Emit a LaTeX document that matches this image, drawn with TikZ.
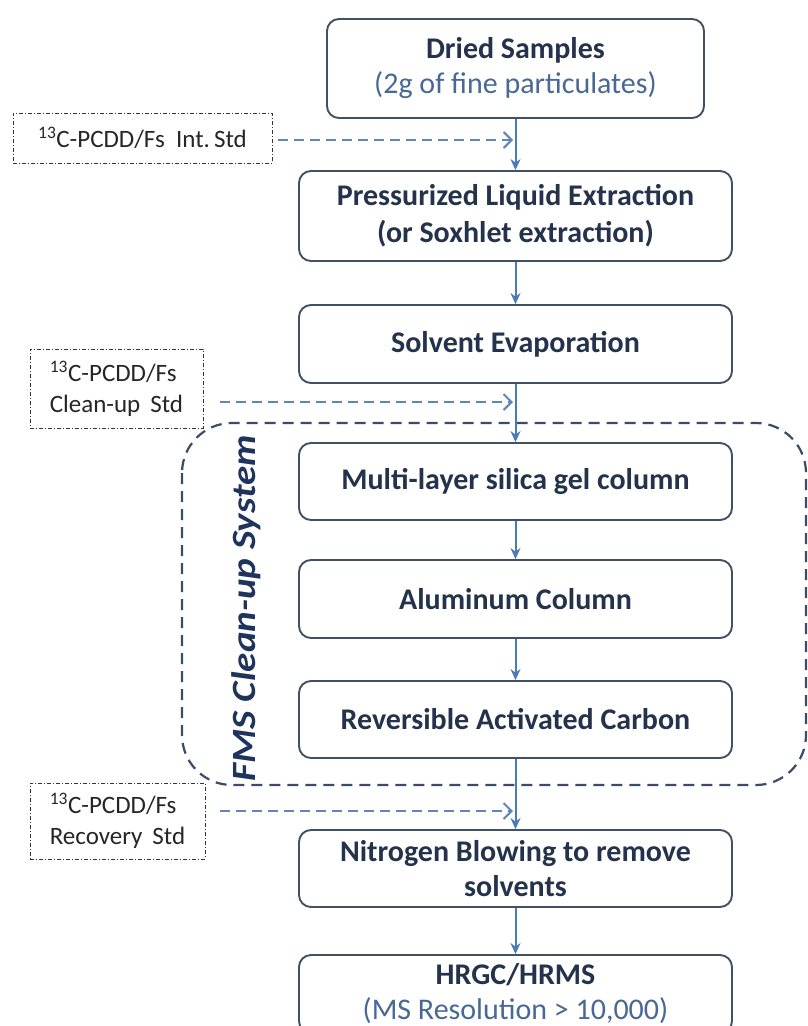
\documentclass[tikz,border=0pt]{standalone}
\usepackage{fontspec}
\setmainfont{Carlito}
\usetikzlibrary{arrows.meta}
\definecolor{boxline}{RGB}{66,80,100}
\definecolor{txt}{RGB}{36,50,76}
\definecolor{subtxt}{RGB}{72,104,150}
\definecolor{arrowc}{RGB}{74,122,184}
\definecolor{dasharr}{RGB}{92,134,188}
\definecolor{fmsc}{RGB}{58,76,102}
\definecolor{fmstxt}{RGB}{30,52,92}
\begin{document}
\begin{tikzpicture}[x=1pt,y=-1pt,
  stepbox/.style={draw=boxline,line width=1.9pt,rounded corners=12pt,fill=white,
    minimum width=433pt,align=center,text=txt,inner sep=0pt,
    font=\fontsize{30}{35}\selectfont\bfseries},
  stdbox/.style={draw=black!80,line width=0.8pt,
    dash pattern=on 4pt off 2pt on 1pt off 2pt,align=left,text=black!85,
    inner sep=0pt,font=\fontsize{25}{31}\selectfont},
  solidarr/.style={draw=arrowc,line width=2pt,-{Stealth[length=11pt,width=10pt]}},
  dasharrow/.style={draw=dasharr,line width=2.2pt,dash pattern=on 10pt off 6pt,
    -{Straight Barb[length=8pt,width=16pt,line width=2pt]}},
  fmsbox/.style={draw=fmsc,line width=2.2pt,dash pattern=on 11pt off 7pt,rounded corners=50pt}
]
\useasboundingbox (0,0) rectangle (807,1026);
\fill[white] (0,0) rectangle (807,1026);

% FMS clean-up region
\draw[fmsbox] (182,423) rectangle (806,785);
\node[rotate=90,text=fmstxt,font=\fontsize{34}{38}\selectfont\bfseries\itshape] (fms) at (246,608)
  {\scalebox{1.15}[1]{FMS Clean-up System}};

% main steps
\node[stepbox,minimum width=377pt,minimum height=99pt] (dried) at (515.5,68.5)
  {Dried Samples\\{\mdseries\color{subtxt}(2g of fine particulates)}};
\node[stepbox,minimum height=90pt,font=\fontsize{30}{37}\selectfont\bfseries] (ple) at (515.5,216)
  {Pressurized Liquid Extraction\\(or Soxhlet extraction)};
\node[stepbox,minimum height=78pt] (solv) at (515.5,344) {Solvent Evaporation};
\node[stepbox,minimum height=77pt] (multi) at (515.5,481.5) {Multi-layer silica gel column};
\node[stepbox,minimum height=78pt] (alum) at (515.5,599) {Aluminum Column};
\node[stepbox,minimum height=77pt] (rev) at (515.5,719.5) {Reversible Activated Carbon};
\node[stepbox,minimum height=77pt] (nitro) at (515.5,868.5) {Nitrogen Blowing to remove\\solvents};
\node[stepbox,minimum height=78pt] (hrgc) at (515.5,994)
  {HRGC/HRMS\\{\mdseries\color{subtxt}(MS Resolution > 10,000)}};

% standards
\node[stdbox,minimum width=259pt,minimum height=50pt] (ints) at (142.5,138)
  {\textsuperscript{13}C-PCDD/Fs\hspace{0.45em}Int.\,Std};
\node[stdbox,minimum width=173pt,minimum height=79pt] (cstd) at (116.5,388.5)
  {\textsuperscript{13}C-PCDD/Fs\\Clean-up\hspace{0.4em}Std};
\node[stdbox,minimum width=175pt,minimum height=76pt] (rstd) at (117.5,821)
  {\textsuperscript{13}C-PCDD/Fs\\Recovery\hspace{0.4em}Std};

% junction points on the main flow line
\coordinate (j1) at (513,140);
\coordinate (j2) at (513,402);
\coordinate (j3) at (513,811);

% main flow
\draw[solidarr] (dried) -- (ple);
\draw[solidarr] (ple) -- (solv);
\draw[solidarr] (solv) -- (multi);
\draw[solidarr] (multi) -- (alum);
\draw[solidarr] (alum) -- (rev);
\draw[solidarr] (rev) -- (nitro);
\draw[solidarr] (nitro) -- (hrgc);

% standards added
\draw[dasharrow,shorten <=6pt] (ints.east |- j1) -- (j1);
\draw[dasharrow,shorten <=17pt] (cstd.east |- j2) -- (j2);
\draw[dasharrow,shorten <=15pt] (rstd.east |- j3) -- (j3);
\end{tikzpicture}
\end{document}
